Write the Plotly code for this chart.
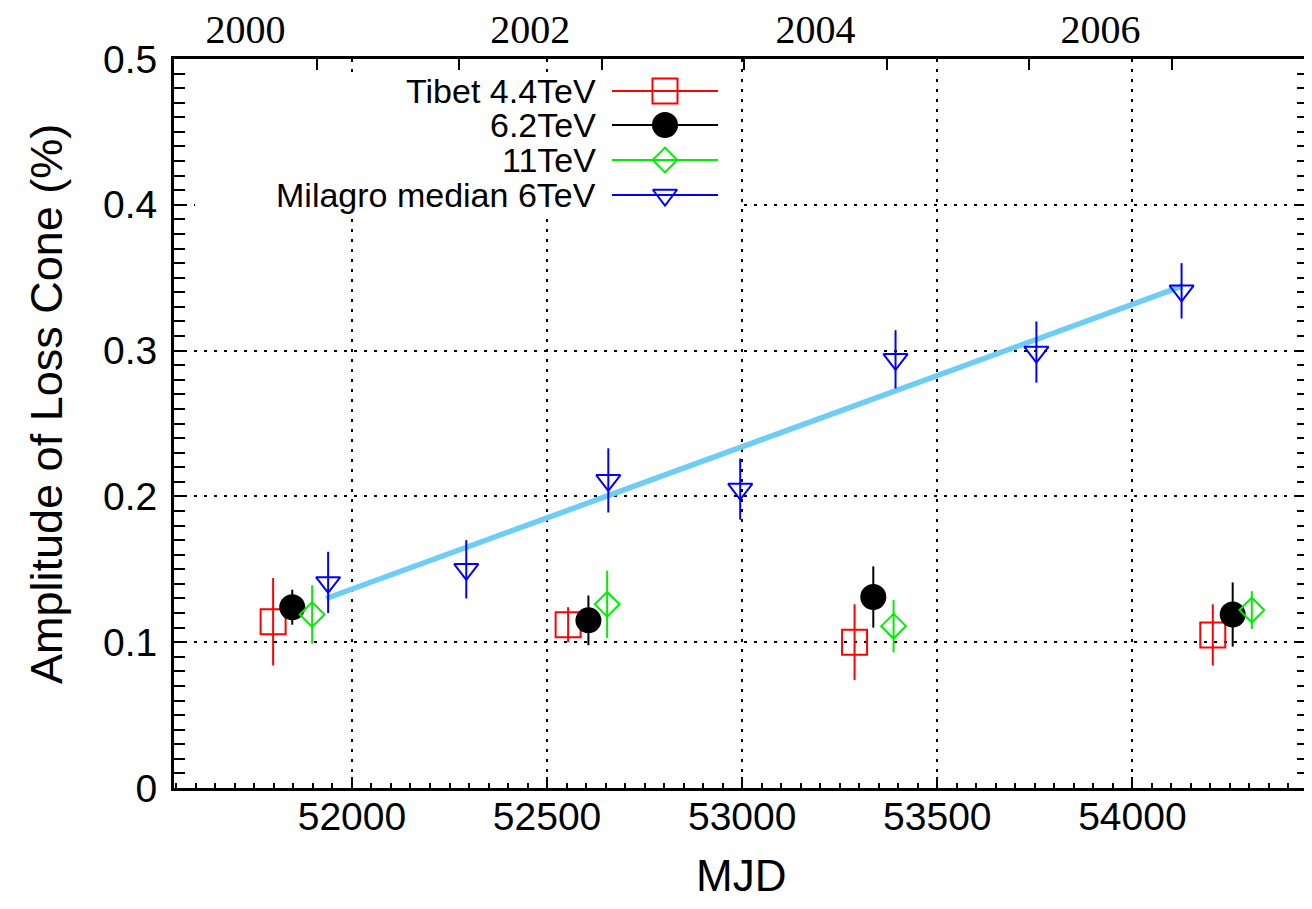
import plotly.graph_objects as go

# ---------------- data ----------------
tibet44_mjd = [51798, 52554, 53288, 54206]
tibet44_amp = [0.114, 0.112, 0.100, 0.105]
tibet44_err = [0.030, 0.012, 0.026, 0.021]

tibet62_mjd = [51847, 52606, 53336, 54257]
tibet62_amp = [0.124, 0.115, 0.131, 0.119]
tibet62_err = [0.012, 0.017, 0.021, 0.022]

tibet11_mjd = [51898, 52654, 53388, 54306]
tibet11_amp = [0.119, 0.126, 0.111, 0.122]
tibet11_err = [0.020, 0.023, 0.018, 0.013]

milagro_mjd = [51939, 52293, 52657, 52995, 53393, 53754, 54126]
milagro_amp = [0.141, 0.150, 0.211, 0.205, 0.294, 0.299, 0.341]
milagro_err = [0.021, 0.020, 0.022, 0.021, 0.020, 0.021, 0.019]

fit_mjd = [51934, 54126]
fit_amp = [0.130, 0.344]

legend_labels = ["Tibet 4.4TeV", "6.2TeV", "11TeV", "Milagro median 6TeV"]

x_tick_vals = [52000, 52500, 53000, 53500, 54000]
x_tick_text = ["52000", "52500", "53000", "53500", "54000"]
y_tick_vals = [0, 0.1, 0.2, 0.3, 0.4, 0.5]
y_tick_text = ["0", "0.1", "0.2", "0.3", "0.4", "0.5"]

year_start_mjd = [51910, 52275, 52640, 53005, 53371, 53736, 54101]   # 2001..2007 Jan 1
year_label_mjd = [51727, 52457, 53188, 53918]                        # mid-year
year_labels = ["2000", "2002", "2004", "2006"]

x_range = [51544, 54450]
y_range = [0, 0.5]

# ---------------- layout geometry ----------------
# page has an 8px body margin, so the figure is shifted by OFF
OFF = 8
W, H = 1312 - OFF, 909 - OFF
L, R, T, B = 174, 1308, 59, 788   # plot area in page pixels


def px(xp):
    return (xp - L) / (R - L)


def py(yp):
    return (B - yp) / (B - T)


SANS = "Liberation Sans, Arial, sans-serif"
SERIF = "Liberation Serif, Times New Roman, serif"

styles = [
    dict(color="#ff0000", symbol="square-open", size=25),
    dict(color="#000000", symbol="circle", size=24),
    dict(color="#00ee00", symbol="diamond-open", size=19),
    dict(color="#0000ff", symbol="triangle-down-open", size=21),
]
series = [
    (tibet44_mjd, tibet44_amp, tibet44_err),
    (tibet62_mjd, tibet62_amp, tibet62_err),
    (tibet11_mjd, tibet11_amp, tibet11_err),
    (milagro_mjd, milagro_amp, milagro_err),
]

fig = go.Figure()

# fit line
fig.add_trace(go.Scatter(x=fit_mjd, y=fit_amp, mode="lines",
                         line=dict(color="#6DCDF5", width=5.5),
                         showlegend=False, hoverinfo="skip"))

for (xs, ys, es), st in zip(series, styles):
    fig.add_trace(go.Scatter(
        x=xs, y=ys, mode="markers",
        marker=dict(symbol=st["symbol"], size=st["size"], color=st["color"],
                    line=dict(color=st["color"], width=2)),
        error_y=dict(type="data", array=es, visible=True, color=st["color"],
                     thickness=2, width=0),
        showlegend=False,
    ))

# dummy traces so the top axes are drawn
fig.add_trace(go.Scatter(x=[x_range[0]], y=[-1], xaxis="x2", yaxis="y",
                         mode="markers", marker=dict(opacity=0),
                         showlegend=False, hoverinfo="skip"))
fig.add_trace(go.Scatter(x=[x_range[0]], y=[-1], xaxis="x3", yaxis="y",
                         mode="markers", marker=dict(opacity=0),
                         showlegend=False, hoverinfo="skip"))

# ---------------- custom legend (gnuplot style: text left, sample right) -------------
box_x0, box_x1, box_y0, box_y1 = px(195), px(738), py(216), py(78)
fig.add_trace(go.Scatter(x=[box_x0, box_x1, box_x1, box_x0, box_x0],
                         y=[box_y0, box_y0, box_y1, box_y1, box_y0],
                         xaxis="x4", yaxis="y4", mode="lines", fill="toself",
                         fillcolor="white", line=dict(width=0, color="white"),
                         showlegend=False, hoverinfo="skip"))
row_y = [91, 125, 160, 195]
for lab, st, ry in zip(legend_labels, styles, row_y):
    fig.add_trace(go.Scatter(x=[px(612), px(718)], y=[py(ry), py(ry)],
                             xaxis="x4", yaxis="y4", mode="lines",
                             line=dict(color=st["color"], width=2),
                             showlegend=False, hoverinfo="skip"))
    fig.add_trace(go.Scatter(x=[px(665)], y=[py(ry)], xaxis="x4", yaxis="y4",
                             mode="markers",
                             marker=dict(symbol=st["symbol"], size=st["size"],
                                         color=st["color"],
                                         line=dict(color=st["color"], width=2)),
                             showlegend=False, hoverinfo="skip"))
    fig.add_annotation(x=px(598), y=py(ry), xref="paper", yref="paper",
                       text=lab, showarrow=False, xanchor="right", yanchor="middle",
                       font=dict(family=SANS, size=34, color="black"))

# axis titles
fig.add_annotation(x=px(47), y=py(404), xref="paper", yref="paper",
                   text="Amplitude of Loss Cone (%)", textangle=-90, showarrow=False,
                   xanchor="center", yanchor="middle",
                   font=dict(family=SANS, size=45, color="black"))
fig.add_annotation(x=px(741), y=py(875), xref="paper", yref="paper",
                   text="MJD", showarrow=False, xanchor="center", yanchor="middle",
                   font=dict(family=SANS, size=44, color="black"))

grid_common = dict(showgrid=True, gridcolor="black", gridwidth=2, griddash="3px,7px")

fig.update_layout(
    width=W, height=H,
    margin=dict(l=L - OFF, r=W - (R - OFF), t=T - OFF, b=H - (B - OFF), pad=0,
                autoexpand=False),
    plot_bgcolor="white", paper_bgcolor="white",
    showlegend=False,
    xaxis=dict(range=x_range, tickmode="array", tickvals=x_tick_vals, ticktext=x_tick_text,
               ticks="inside", ticklen=11, tickwidth=2, tickcolor="black",
               minor=dict(ticks="inside", ticklen=5, tickwidth=2, dtick=50, tick0=0,
                          tickmode="linear", tickcolor="black", showgrid=False),
               showline=True, linewidth=3, linecolor="black", mirror=True,
               zeroline=False, ticklabelstandoff=-8, automargin=False,
               tickfont=dict(family=SANS, size=39, color="black"),
               **grid_common),
    yaxis=dict(range=y_range, tickmode="array", tickvals=y_tick_vals, ticktext=y_tick_text,
               ticks="inside", ticklen=11, tickwidth=2, tickcolor="black",
               minor=dict(ticks="inside", ticklen=6, tickwidth=2, dtick=0.01, tick0=0,
                          tickmode="linear", tickcolor="black", showgrid=False),
               showline=True, linewidth=3, linecolor="black", mirror="allticks",
               zeroline=False, ticklabelstandoff=6, automargin=False,
               tickfont=dict(family=SANS, size=39, color="black"),
               **grid_common),
    xaxis2=dict(range=x_range, overlaying="x", side="top", anchor="y",
                tickmode="array", tickvals=year_start_mjd, ticktext=[""] * len(year_start_mjd),
                ticks="inside", ticklen=11, tickwidth=2, tickcolor="black",
                showticklabels=False, showgrid=False, showline=False, zeroline=False,
                automargin=False),
    xaxis3=dict(range=x_range, overlaying="x", side="top", anchor="y",
                tickmode="array", tickvals=year_label_mjd, ticktext=year_labels,
                ticks="", showgrid=False, showline=False, zeroline=False,
                ticklabelstandoff=7, automargin=False,
                tickfont=dict(family=SERIF, size=40, color="black")),
    xaxis4=dict(range=[0, 1], overlaying="x", visible=False, fixedrange=True),
    yaxis4=dict(range=[0, 1], overlaying="y", visible=False, fixedrange=True),
)

fig.write_html("out.html")
